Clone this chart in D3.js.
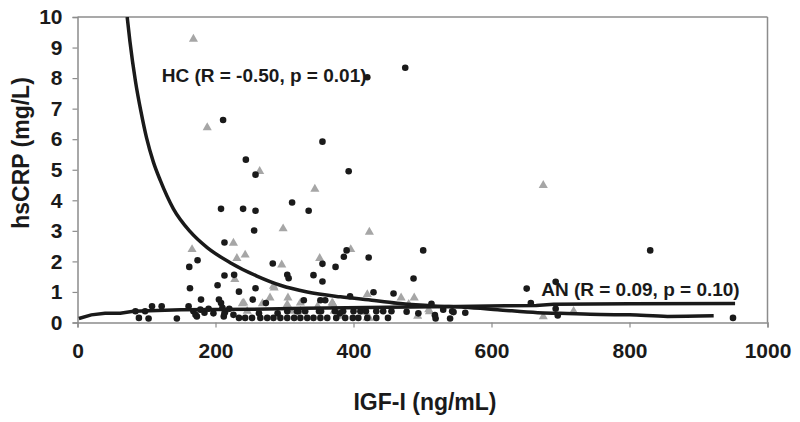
<!DOCTYPE html>
<html><head><meta charset="utf-8">
<script src="https://cdn.jsdelivr.net/npm/d3@7"></script>
<style>body{margin:0;background:#fff}svg{display:block}text{font-family:"Liberation Sans",Arial,sans-serif;font-weight:bold;fill:#1a1a1a}</style>
</head><body><svg id="c" width="800" height="422"></svg>
<script>
const xTicks = [0,200,400,600,800,1000];
const yTicks = [0,1,2,3,4,5,6,7,8,9,10];
const xTitle = "IGF-I (ng/mL)";
const yTitle = "hsCRP (mg/L)";
const hcLabel = "HC (R = -0.50, p = 0.01)";
const anLabel = "AN (R = 0.09, p = 0.10)";

// HC (healthy controls) – grey triangles
const hcPoints = [[168,9.28],[188,6.38],[264,4.95],[344,4.37],[675,4.49],
[298,3.07],[423,2.96],[226,2.6],[166,2.39],[231,2.1],[243,2.21],[296,1.89],[351,2.1],[396,2.39],
[228,1.41],[284,1.19],[285,1.13],[279,0.81],[305,0.81],[370,0.62],[420,0.92],[469,0.81],[488,0.81],
[510,0.36],[493,0.21],[423,0.14],[384,0.21],[416,0.34],[241,0.64],[304,0.59],[323,0.64],[369,0.64],
[372,0.37],[675,0.19],[719,0.37],[239,0.62],[246,0.37],[268,0.62],[309,0.37],[323,0.37],[348,0.53],[372,0.53],[420,0.15],[509,0.42],[480,0.6]];

// AN – black circles
const anPoints = [[475,8.34],[420,8.03],[211,6.63],[355,5.92],[244,5.33],[258,4.84],[393,4.95],
[311,3.93],[208,3.72],[240,3.72],[258,3.66],[335,3.66],[256,3.01],[213,2.62],[174,2.04],[162,1.82],[283,1.93],[355,1.92],[374,1.82],[386,2.15],[390,2.36],[422,2.13],[501,2.36],[830,2.36],
[163,1.12],[213,1.54],[227,1.56],[203,1.22],[234,1.01],[258,1.12],[304,1.56],[306,1.45],[342,1.55],[355,1.34],[487,1.44],[651,1.11],[693,1.33],
[254,0.75],[179,0.75],[205,0.75],[208,0.64],[328,0.73],[352,0.73],[359,0.73],[395,0.86],[429,0.99],[458,0.95],[513,0.61],[273,0.64],[657,0.64],[693,0.45],[696,0.23],[950,0.15],
[84,0.37],[89,0.15],[103,0.13],[98,0.37],[108,0.53],[122,0.53],[144,0.13],[161,0.53],[168,0.37],[173,0.2],[178,0.42],[184,0.32],[171,0.25],[210,0.48],[214,0.35],[212,0.2],
[234,0.15],[243,0.15],[253,0.15],[265,0.15],[275,0.15],[284,0.15],[294,0.15],[304,0.15],[314,0.15],[323,0.15],[333,0.15],[342,0.15],[352,0.15],[362,0.15],[375,0.15],[388,0.15],[399,0.15],[407,0.15],[420,0.15],[433,0.15],[450,0.15],
[304,0.37],[318,0.37],[320,0.37],[330,0.37],[350,0.37],[353,0.37],[373,0.37],[385,0.37],[400,0.37],[410,0.37],[418,0.37],[433,0.37],[443,0.37],[455,0.37],
[477,0.35],[494,0.3],[518,0.24],[519,0.13],[530,0.42],[540,0.13],[545,0.34],[562,0.32],[543,0.37],[213,0.3],[220,0.45],[226,0.25],[197,0.3],[190,0.45],[263,0.3],[290,0.3],[380,0.3]];

// fitted curves
const hcFit = [[72,10],[76,9.2],[84,7.9],[92,6.9],[100,6.05],[110,5.25],[120,4.65],[139,3.72],[163,2.98],[188,2.45],[222,1.95],[260,1.52],[294,1.22],[333,1.0],[381,0.84],[430,0.72],[468,0.62],[517,0.54],[560,0.5],[609,0.42],[667,0.32],[700,0.3],[758,0.26],[800,0.25],[855,0.2],[922,0.22]];
const anFit = [[2,0.13],[20,0.25],[40,0.3],[62,0.3],[81,0.37],[150,0.42],[250,0.43],[330,0.47],[450,0.5],[550,0.52],[620,0.55],[665,0.56],[690,0.6],[800,0.61],[953,0.62]];

const L = 77.5, R = 767.5, T = 17, B = 322.5;
const svg = d3.select("#c");
const x = d3.scaleLinear().domain([0,1000]).range([L,R]);
const y = d3.scaleLinear().domain([0,10]).range([B,T]);
const axisCol = "#8c8c8c";

svg.append("clipPath").attr("id","clip").append("rect").attr("x",L).attr("y",T).attr("width",R-L).attr("height",B-T);

// frame top/right
svg.append("line").attr("x1",L).attr("x2",R).attr("y1",T).attr("y2",T).attr("stroke",axisCol).attr("stroke-width",1.5);
svg.append("line").attr("x1",R).attr("x2",R).attr("y1",T).attr("y2",B).attr("stroke",axisCol).attr("stroke-width",1.5);

const xa = svg.append("g").attr("transform",`translate(0,${B})`).call(d3.axisBottom(x).tickValues(xTicks).tickFormat(d3.format("d")).tickSize(5).tickPadding(12));
const ya = svg.append("g").attr("transform",`translate(${L},0)`).call(d3.axisLeft(y).tickValues(yTicks).tickFormat(d3.format("d")).tickSize(5).tickPadding(10));
[xa,ya].forEach(a=>{a.select(".domain").attr("stroke",axisCol).attr("stroke-width",1.5);
  a.selectAll(".tick line").attr("stroke",axisCol).attr("stroke-width",1.2);
  a.selectAll("text").attr("font-size",21).attr("font-family","Liberation Sans, Arial, sans-serif").attr("font-weight","bold").attr("fill","#1a1a1a");});
xa.selectAll(".tick text").attr("dy","0.9em");

const g = svg.append("g").attr("clip-path","url(#clip)");
const tri = d3.symbol().type(d3.symbolTriangle).size(36);
g.selectAll("path.hc").data(hcPoints).join("path").attr("class","hc").attr("d",tri)
  .attr("transform",d=>`translate(${x(d[0])},${y(d[1])})`).attr("fill","#a6a6a6");
g.selectAll("circle.an").data(anPoints).join("circle").attr("class","an")
  .attr("cx",d=>x(d[0])).attr("cy",d=>y(d[1])).attr("r",3.3).attr("fill","#1a1a1a");

g.append("path").attr("d",d3.line().curve(d3.curveMonotoneX).x(d=>x(d[0])).y(d=>y(d[1]))(hcFit)).attr("fill","none").attr("stroke","#1a1a1a").attr("stroke-width",3.5);
g.append("path").attr("d",d3.line().x(d=>x(d[0])).y(d=>y(d[1]))(anFit)).attr("fill","none").attr("stroke","#1a1a1a").attr("stroke-width",3.5);

svg.append("text").attr("x",x(122)).attr("y",y(7.88)).attr("font-size",19).text(hcLabel);
svg.append("text").attr("x",x(672)).attr("y",y(0.86)).attr("font-size",19).text(anLabel);

svg.append("text").attr("x",425).attr("y",410).attr("text-anchor","middle").attr("font-size",23).text(xTitle);
svg.append("text").attr("transform","translate(29,153) rotate(-90)").attr("text-anchor","middle").attr("font-size",23).text(yTitle);
</script></body></html>
